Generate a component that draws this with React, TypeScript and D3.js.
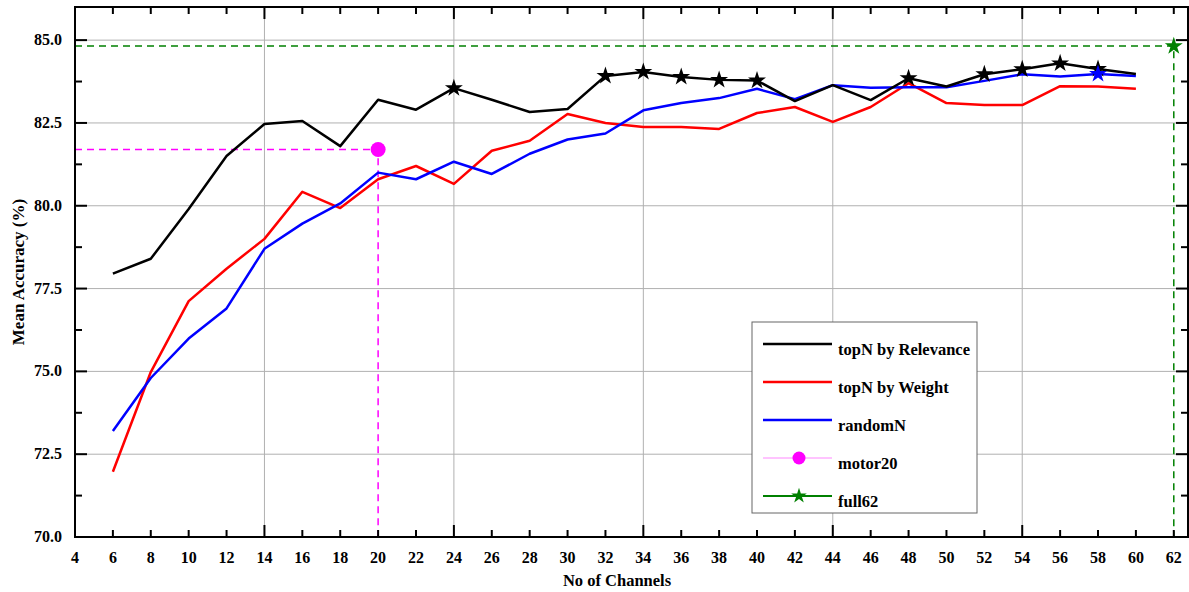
import React from "react";
import * as d3 from "d3";

// channel counts on the x axis
const channels = [6, 8, 10, 12, 14, 16, 18, 20, 22, 24, 26, 28, 30, 32, 34, 36, 38, 40, 42, 44, 46, 48, 50, 52, 54, 56, 58, 60];

const relevance = [77.95, 78.4, 79.9, 81.5, 82.47, 82.56, 81.8, 83.2, 82.9, 83.55, 83.2, 82.83, 82.92, 83.92, 84.04, 83.89, 83.8, 83.78, 83.16, 83.64, 83.19, 83.85, 83.6, 83.97, 84.12, 84.3, 84.13, 83.98];
const weight = [71.97, 74.98, 77.12, 78.1, 79.0, 80.42, 79.93, 80.8, 81.2, 80.66, 81.66, 81.96, 82.77, 82.5, 82.38, 82.38, 82.32, 82.8, 82.98, 82.53, 82.98, 83.7, 83.1, 83.04, 83.04, 83.61, 83.6, 83.53];
const randomN = [73.2, 74.8, 75.99, 76.9, 78.7, 79.46, 80.07, 81.0, 80.8, 81.33, 80.96, 81.57, 82.0, 82.18, 82.88, 83.1, 83.25, 83.53, 83.22, 83.64, 83.56, 83.58, 83.58, 83.77, 83.97, 83.9, 83.98, 83.92];

// channel counts where a star is drawn on the line
const relevanceStars = [24, 32, 34, 36, 38, 40, 48, 52, 54, 56, 58];
const randomStars = [58];

const motor20 = { x: 20, y: 81.7 };
const full62 = { x: 62, y: 84.82 };

const xTicks = d3.range(4, 63, 2);
const xMajor = [4, 14, 24, 34, 44, 54];
const yMajor = [70, 72.5, 75, 77.5, 80, 82.5, 85];
const yMinor = [71.25, 73.75, 76.25, 78.75, 81.25, 83.75, 86];

const legendItems = [
  { label: "topN by Relevance", color: "#000000", kind: "line" },
  { label: "topN by Weight", color: "#ff0000", kind: "line" },
  { label: "randomN", color: "#0000ff", kind: "line" },
  { label: "motor20", color: "#ff00ff", kind: "circle" },
  { label: "full62", color: "#008000", kind: "star" },
];

const W = 1189;
const H = 592;
const left = 75, right = 1188, top = 7, bottom = 537;
const font = "'Liberation Serif', 'Times New Roman', serif";

export default function App() {
  const x = d3.scaleLinear().domain([4, 62.75]).range([left, right]);
  const y = d3.scaleLinear().domain([70, 86]).range([bottom, top]);

  const line = d3
    .line<number>()
    .x((_, i) => x(channels[i]))
    .y((d) => y(d));

  const star = d3.symbol().type(d3.symbolStar).size(100)();
  const starSmall = d3.symbol().type(d3.symbolStar).size(75)();

  const series = [
    { vals: weight, color: "#ff0000" },
    { vals: randomN, color: "#0000ff" },
    { vals: relevance, color: "#000000" },
  ];

  const lgX = 752, lgY = 322, lgW = 225, lgH = 191;

  return (
    <svg width={W} height={H} style={{ position: "absolute", left: 0, top: 0, background: "#fff" }} fontFamily={font}>
      {/* grid */}
      {xMajor.slice(1).map((t) => (
        <line key={"gx" + t} x1={x(t)} x2={x(t)} y1={top} y2={bottom} stroke="#b0b0b0" strokeWidth={1} />
      ))}
      {yMajor.slice(1).map((t) => (
        <line key={"gy" + t} x1={left} x2={right} y1={y(t)} y2={y(t)} stroke="#b0b0b0" strokeWidth={1} />
      ))}

      {/* reference lines */}
      <path
        d={`M${left},${y(motor20.y)}H${x(motor20.x)}V${bottom}`}
        fill="none" stroke="#ff00ff" strokeWidth={1.5} strokeDasharray="7,5"
      />
      <path
        d={`M${left},${y(full62.y)}H${x(full62.x)}V${bottom}`}
        fill="none" stroke="#008000" strokeWidth={1.5} strokeDasharray="7,5"
      />

      {/* series */}
      {series.map((s) => (
        <path key={s.color} d={line(s.vals) || ""} fill="none" stroke={s.color} strokeWidth={2.5} strokeLinejoin="round" />
      ))}
      {relevanceStars.map((c) => (
        <path key={"rs" + c} d={star} transform={`translate(${x(c)},${y(relevance[channels.indexOf(c)])})`} fill="#000" />
      ))}
      {randomStars.map((c) => (
        <path key={"bs" + c} d={star} transform={`translate(${x(c)},${y(randomN[channels.indexOf(c)])})`} fill="#0000ff" />
      ))}
      <circle cx={x(motor20.x)} cy={y(motor20.y)} r={7.5} fill="#ff00ff" />
      <path d={star} transform={`translate(${x(full62.x)},${y(full62.y)})`} fill="#008000" />

      {/* frame */}
      <rect x={left} y={top} width={right - left} height={bottom - top} fill="none" stroke="#000" strokeWidth={2} />

      {/* x ticks */}
      {xTicks.map((t) => {
        const len = xMajor.includes(t) ? 12 : 7;
        return (
          <g key={"xt" + t}>
            <line x1={x(t)} x2={x(t)} y1={bottom} y2={bottom - len} stroke="#000" strokeWidth={2} />
            <line x1={x(t)} x2={x(t)} y1={top} y2={top + len} stroke="#000" strokeWidth={2} />
            <text x={x(t)} y={563} textAnchor="middle" fontSize={16} fontWeight="bold">{t}</text>
          </g>
        );
      })}

      {/* y ticks */}
      {yMajor.map((t) => (
        <g key={"yt" + t}>
          <line x1={left} x2={left + 12} y1={y(t)} y2={y(t)} stroke="#000" strokeWidth={2} />
          <line x1={right} x2={right - 12} y1={y(t)} y2={y(t)} stroke="#000" strokeWidth={2} />
          <text x={62} y={y(t) + 5} textAnchor="end" fontSize={16} fontWeight="bold">{t.toFixed(1)}</text>
        </g>
      ))}
      {yMinor.map((t) => (
        <g key={"ym" + t}>
          <line x1={left} x2={left + 7} y1={y(t)} y2={y(t)} stroke="#000" strokeWidth={2} />
          <line x1={right} x2={right - 7} y1={y(t)} y2={y(t)} stroke="#000" strokeWidth={2} />
        </g>
      ))}

      {/* axis titles */}
      <text x={617} y={586} textAnchor="middle" fontSize={16.5} fontWeight="bold">No of Channels</text>
      <text transform={`translate(24,${(top + bottom) / 2}) rotate(-90)`} textAnchor="middle" fontSize={17} fontWeight="bold">
        Mean Accuracy (%)
      </text>

      {/* legend */}
      <rect x={lgX} y={lgY} width={lgW} height={lgH} fill="#fff" stroke="#666" strokeWidth={1} />
      {legendItems.map((it, i) => {
        const ly = 344 + i * 38;
        return (
          <g key={it.label}>
            <line
              x1={763} x2={832} y1={ly} y2={ly}
              stroke={it.kind === "circle" ? "#ff88ff" : it.color}
              strokeWidth={it.kind === "line" ? 2.5 : it.kind === "circle" ? 1 : 2}
            />
            {it.kind === "circle" && <circle cx={799} cy={ly} r={6.5} fill={it.color} />}
            {it.kind === "star" && <path d={starSmall} transform={`translate(799,${ly})`} fill={it.color} />}
            <text x={838} y={ly + 11} fontSize={16.5} fontWeight="bold">{it.label}</text>
          </g>
        );
      })}
    </svg>
  );
}
